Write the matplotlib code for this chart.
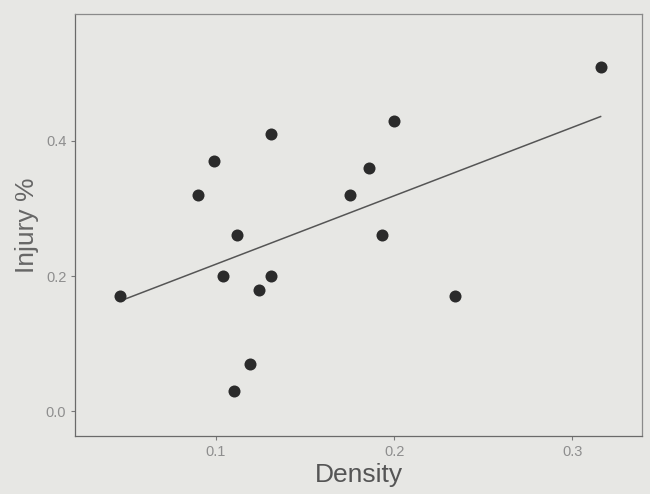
import numpy as np
from matplotlib import pyplot as plt

density = [0.046, 0.090, 0.099, 0.104, 0.112, 0.110, 0.119, 0.124, 0.131, 0.131,
           0.175, 0.186, 0.193, 0.200, 0.234, 0.316]
injury = [0.17, 0.32, 0.37, 0.20, 0.26, 0.03, 0.07, 0.18, 0.20, 0.41,
          0.32, 0.36, 0.26, 0.43, 0.17, 0.51]
xticks = [0.1, 0.2, 0.3]
yticks = [0.0, 0.2, 0.4]

plt.rcParams['font.family'] = ['Liberation Sans', 'DejaVu Sans']
bg = '#e7e7e4'

fig = plt.figure(figsize=(6.5, 4.94), dpi=100, facecolor=bg)
ax = fig.add_axes([0.116, 0.117, 0.871, 0.855], facecolor=bg)

ax.scatter(density, injury, s=75, color='#2b2b2b', zorder=3, linewidths=0)

# least squares line over the data range
k, b = np.polyfit(density, injury, 1)
xs = np.array([min(density), max(density)])
ax.plot(xs, k * xs + b, color='#555555', lw=1.1, zorder=2)

ax.set_xlim(0.021, 0.339)
ax.set_ylim(-0.037, 0.588)
ax.set_xticks(xticks)
ax.set_xticklabels([f'{t:.1f}' for t in xticks])
ax.set_yticks(yticks)
ax.set_yticklabels([f'{t:.1f}' for t in yticks])

for side in ['left', 'bottom']:
    ax.spines[side].set_color('#6a6a6a')
for side in ['top', 'right']:
    ax.spines[side].set_color('#8a8a8a')
for s in ax.spines.values():
    s.set_linewidth(0.9)

ax.tick_params(colors='#7a7a7a', labelsize=10.5, length=3, width=0.8, labelcolor='#8e8e8e')
ax.set_xlabel('Density', fontsize=19, color='#555555', labelpad=3)
ax.set_ylabel('Injury %', fontsize=19, color='#666666', labelpad=5)

fig.savefig('out.png', dpi=100, facecolor=bg)
